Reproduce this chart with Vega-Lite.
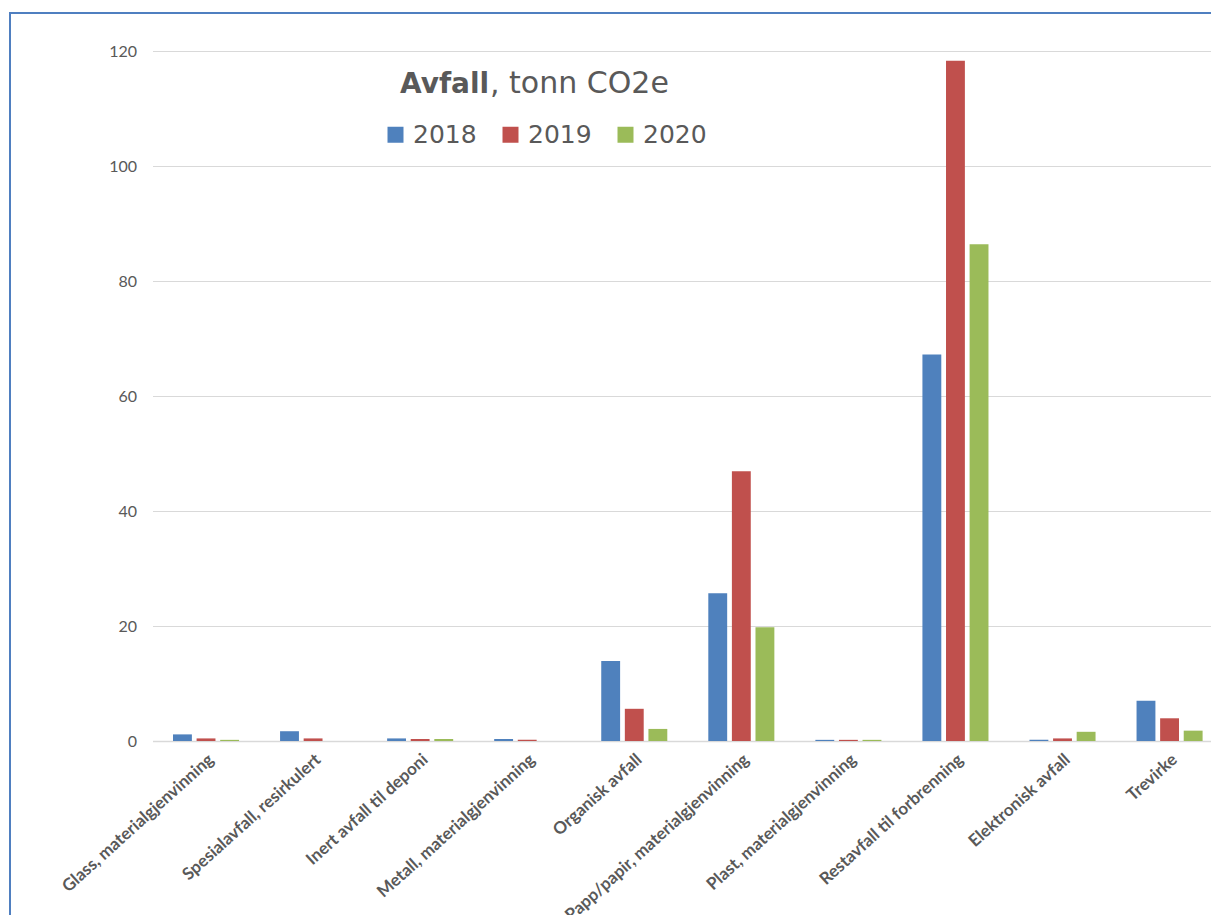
{
  "$schema": "https://vega.github.io/schema/vega-lite/v6.json",
  "width": 1221,
  "height": 922,
  "autosize": {"type": "none"},
  "padding": {"left": 10, "top": 13, "right": -20, "bottom": -20},
  "background": "white",
  "title": {
    "text": ", tonn CO2e",
    "orient": "top",
    "anchor": "start",
    "frame": "group",
    "offset": 0,
    "dx": 480,
    "dy": 110,
    "baseline": "alphabetic",
    "font": "DejaVu Sans",
    "fontSize": 30,
    "fontWeight": "normal",
    "color": "#595959"
  },
  "data": {
    "values": [
      {"category": "Glass, materialgjenvinning", "year": "2018", "value": 1.15},
      {"category": "Glass, materialgjenvinning", "year": "2019", "value": 0.45},
      {"category": "Glass, materialgjenvinning", "year": "2020", "value": 0.2},
      {"category": "Spesialavfall, resirkulert", "year": "2018", "value": 1.7},
      {"category": "Spesialavfall, resirkulert", "year": "2019", "value": 0.45},
      {"category": "Spesialavfall, resirkulert", "year": "2020", "value": 0},
      {"category": "Inert avfall til deponi", "year": "2018", "value": 0.45},
      {"category": "Inert avfall til deponi", "year": "2019", "value": 0.35},
      {"category": "Inert avfall til deponi", "year": "2020", "value": 0.35},
      {"category": "Metall, materialgjenvinning", "year": "2018", "value": 0.35},
      {"category": "Metall, materialgjenvinning", "year": "2019", "value": 0.2},
      {"category": "Metall, materialgjenvinning", "year": "2020", "value": 0},
      {"category": "Organisk avfall", "year": "2018", "value": 13.9},
      {"category": "Organisk avfall", "year": "2019", "value": 5.6},
      {"category": "Organisk avfall", "year": "2020", "value": 2.1},
      {"category": "Papp/papir, materialgjenvinning", "year": "2018", "value": 25.7},
      {"category": "Papp/papir, materialgjenvinning", "year": "2019", "value": 46.9},
      {"category": "Papp/papir, materialgjenvinning", "year": "2020", "value": 19.8},
      {"category": "Plast, materialgjenvinning", "year": "2018", "value": 0.2},
      {"category": "Plast, materialgjenvinning", "year": "2019", "value": 0.2},
      {"category": "Plast, materialgjenvinning", "year": "2020", "value": 0.2},
      {"category": "Restavfall til forbrenning", "year": "2018", "value": 67.2},
      {"category": "Restavfall til forbrenning", "year": "2019", "value": 118.3},
      {"category": "Restavfall til forbrenning", "year": "2020", "value": 86.4},
      {"category": "Elektronisk avfall", "year": "2018", "value": 0.2},
      {"category": "Elektronisk avfall", "year": "2019", "value": 0.45},
      {"category": "Elektronisk avfall", "year": "2020", "value": 1.6},
      {"category": "Trevirke", "year": "2018", "value": 7.0},
      {"category": "Trevirke", "year": "2019", "value": 3.95},
      {"category": "Trevirke", "year": "2020", "value": 1.8}
    ]
  },
  "mark": {"type": "bar"},
  "encoding": {
    "x": {
      "field": "category",
      "type": "nominal",
      "sort": null,
      "title": null,
      "scale": {"range": [142.5, 1213.1], "paddingInner": 0.383, "paddingOuter": 0.1915},
      "axis": {
        "offset": -194,
        "labelAngle": -42,
        "labelFont": "Lato",
        "labelFontSize": 17,
        "labelFontWeight": "bold",
        "labelColor": "#595959",
        "labelPadding": 10,
        "labelLimit": 0,
        "ticks": false,
        "domainColor": "#D9D9D9",
        "domainWidth": 1.5,
        "grid": false
      }
    },
    "xOffset": {
      "field": "year",
      "type": "nominal",
      "scale": {"paddingInner": 0.2, "paddingOuter": 0}
    },
    "y": {
      "field": "value",
      "type": "quantitative",
      "title": null,
      "scale": {"domain": [0, 120], "range": [728, 38], "nice": false, "zero": true},
      "axis": {
        "offset": -142.5,
        "values": [0, 20, 40, 60, 80, 100, 120],
        "domain": false,
        "ticks": false,
        "labelFont": "Lato",
        "labelFontSize": 16,
        "labelColor": "#595959",
        "labelPadding": 16,
        "grid": true,
        "gridColor": "#D9D9D9",
        "gridWidth": 1.2
      }
    },
    "color": {
      "field": "year",
      "type": "nominal",
      "scale": {"domain": ["2018", "2019", "2020"], "range": ["#4F81BD", "#C0504D", "#9BBB59"]},
      "legend": {
        "orient": "none",
        "legendX": 390,
        "legendY": 58,
        "direction": "horizontal",
        "title": "Avfall",
        "titleOrient": "top",
        "titleAnchor": "start",
        "titleFont": "DejaVu Sans",
        "titleFontSize": 28,
        "titleFontWeight": "bold",
        "titleColor": "#595959",
        "titlePadding": 23,
        "titleLimit": 0,
        "symbolType": "square",
        "symbolSize": 256,
        "symbolStrokeWidth": 0,
        "symbolOpacity": 1,
        "symbolOffset": -17,
        "labelFont": "DejaVu Sans",
        "labelFontSize": 25,
        "labelColor": "#595959",
        "labelOffset": 5,
        "columnPadding": 25,
        "padding": 0
      }
    }
  },
  "config": {
    "view": {"stroke": "#4F7FC0", "strokeWidth": 2, "fill": "white"}
  }
}
